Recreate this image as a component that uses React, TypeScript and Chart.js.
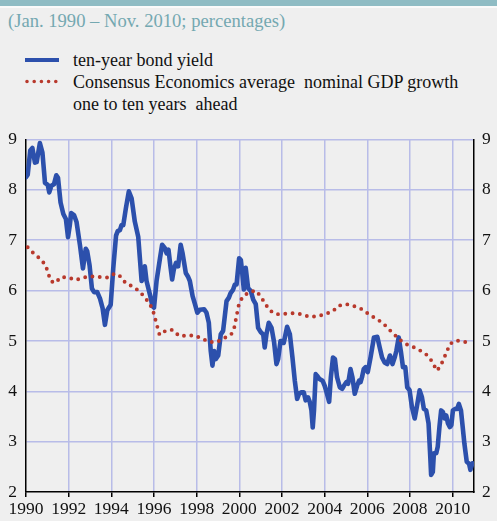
import React, { useEffect, useRef } from 'react';
import { Chart, registerables } from 'chart.js';

Chart.register(...registerables);

const tickYears = [1990, 1992, 1994, 1996, 1998, 2000, 2002, 2004, 2006, 2008, 2010];
const valueTicks = [2, 3, 4, 5, 6, 7, 8, 9];

const bondDates = [
  1990.0, 1990.08, 1990.2, 1990.3, 1990.42, 1990.5, 1990.65, 1990.77, 1990.89, 1991.02,
  1991.09, 1991.19, 1991.31, 1991.42, 1991.5, 1991.62, 1991.75, 1991.87, 1991.97, 1992.05,
  1992.12, 1992.25, 1992.37, 1992.53, 1992.67, 1992.8, 1992.87, 1992.98, 1993.09, 1993.19,
  1993.34, 1993.47, 1993.59, 1993.7, 1993.81, 1993.97, 1994.09, 1994.22, 1994.3, 1994.4,
  1994.48, 1994.56, 1994.68, 1994.82, 1994.95, 1995.1, 1995.26, 1995.42, 1995.49, 1995.57,
  1995.65, 1995.81, 1995.93, 1996.0, 1996.12, 1996.28, 1996.38, 1996.51, 1996.59, 1996.68,
  1996.78, 1996.85, 1996.93, 1997.03, 1997.13, 1997.25, 1997.34, 1997.49, 1997.59, 1997.68,
  1997.81, 1997.92, 1998.03, 1998.15, 1998.35, 1998.46, 1998.57, 1998.66, 1998.74, 1998.82,
  1998.9, 1999.01, 1999.13, 1999.24, 1999.4, 1999.51, 1999.59, 1999.71, 1999.79, 1999.87,
  1999.99, 2000.07, 2000.13, 2000.21, 2000.3, 2000.41, 2000.54, 2000.65, 2000.77, 2000.88,
  2001.01, 2001.12, 2001.19, 2001.27, 2001.38, 2001.51, 2001.63, 2001.74, 2001.82, 2001.93,
  2002.02, 2002.08, 2002.24, 2002.37, 2002.49, 2002.6, 2002.71, 2002.8, 2002.91, 2003.02,
  2003.11, 2003.22, 2003.3, 2003.38, 2003.44, 2003.5, 2003.58, 2003.64, 2003.74, 2003.9,
  2004.0, 2004.11, 2004.21, 2004.29, 2004.39, 2004.48, 2004.58, 2004.71, 2004.82, 2004.9,
  2005.02, 2005.1, 2005.21, 2005.3, 2005.41, 2005.52, 2005.61, 2005.68, 2005.75, 2005.83,
  2005.92, 2006.02, 2006.15, 2006.31, 2006.47, 2006.58, 2006.69, 2006.81, 2006.93, 2007.06,
  2007.18, 2007.28, 2007.36, 2007.47, 2007.57, 2007.67, 2007.78, 2007.87, 2007.98, 2008.09,
  2008.22, 2008.32, 2008.45, 2008.56, 2008.65, 2008.76, 2008.87, 2008.95, 2008.99, 2009.07,
  2009.12, 2009.23, 2009.3, 2009.38, 2009.46, 2009.54, 2009.62, 2009.7, 2009.78, 2009.87,
  2009.94, 2010.01, 2010.12, 2010.21, 2010.29, 2010.39, 2010.47, 2010.55, 2010.66, 2010.77,
  2010.83, 2010.92,
];
const bondValues = [
  8.25, 8.3, 8.78, 8.83, 8.54, 8.55, 8.93, 8.74, 8.14, 8.1,
  7.95, 8.08, 8.11, 8.29, 8.24, 7.75, 7.52, 7.42, 7.06, 7.29,
  7.54, 7.5, 7.36, 6.9, 6.44, 6.83, 6.78, 6.5, 6.04, 5.97,
  5.97, 5.84, 5.65, 5.32, 5.61, 5.72, 6.44, 7.09, 7.18, 7.2,
  7.3, 7.3, 7.63, 7.97, 7.83, 7.37, 7.07, 6.19, 6.25, 6.48,
  6.19, 5.92, 5.69, 5.66, 6.19, 6.64, 6.91, 6.84, 6.74, 6.81,
  6.45, 6.22, 6.42, 6.55, 6.48, 6.91, 6.74, 6.35, 6.28, 6.19,
  5.89, 5.73, 5.56, 5.62, 5.63, 5.56, 5.36, 4.8, 4.51, 4.8,
  4.64, 4.71, 5.13, 5.2, 5.79, 5.86, 5.95, 6.02, 6.12, 6.12,
  6.64, 6.61, 6.38, 6.02, 6.45, 6.05, 5.99, 5.82, 5.73, 5.26,
  5.17, 5.13, 4.87, 5.13, 5.36, 5.26, 4.97, 4.54, 4.64, 5.0,
  5.0, 4.96, 5.28, 5.13, 4.67, 4.21, 3.85, 3.95, 3.98, 3.98,
  3.82, 3.88, 3.79, 3.62, 3.28, 3.62, 4.34, 4.31, 4.25, 4.21,
  4.11, 3.95, 3.79, 4.28, 4.67, 4.64, 4.28, 4.08, 4.05, 4.11,
  4.18, 4.15, 4.44, 4.28, 3.95, 4.11, 4.21, 4.18, 4.28, 4.44,
  4.48, 4.38, 4.67, 5.07, 5.08, 4.87, 4.67, 4.57, 4.54, 4.71,
  4.54, 4.67, 4.8, 5.07, 4.8, 4.48, 4.48, 4.08, 4.02, 3.69,
  3.46, 3.69, 4.02, 3.88, 3.65, 3.62, 3.36, 2.7, 2.34, 2.4,
  2.77, 2.77, 2.9, 3.29, 3.62, 3.59, 3.46, 3.52, 3.36, 3.29,
  3.33, 3.62, 3.65, 3.65, 3.75, 3.62, 3.29, 2.96, 2.6, 2.56,
  2.44, 2.57,
];

const gdpDates = [
  1990.08, 1990.4, 1990.7, 1990.92, 1991.16, 1991.36, 1991.64, 1991.98, 1992.33, 1992.7,
  1993.08, 1993.81, 1994.17, 1994.43, 1994.67, 1995.0, 1995.31, 1995.56, 1995.81, 1995.96,
  1996.26, 1996.57, 1996.87, 1997.18, 1997.88, 1998.24, 1998.59, 1998.95, 1999.27, 1999.62,
  1999.76, 1999.98, 2000.16, 2000.46, 2000.79, 2001.02, 2001.41, 2001.74, 2002.52, 2002.9,
  2003.27, 2003.65, 2004.02, 2004.38, 2004.66, 2005.02, 2005.39, 2005.75, 2006.07, 2006.72,
  2006.99, 2007.53, 2007.85, 2008.2, 2008.56, 2008.86, 2009.08, 2009.25, 2009.42, 2009.73,
  2009.87, 2010.17, 2010.54, 2010.7,
];
const gdpValues = [
  6.86, 6.72, 6.62, 6.5, 6.19, 6.15, 6.27, 6.26, 6.21, 6.26,
  6.28, 6.26, 6.34, 6.28, 6.15, 6.08, 5.99, 5.87, 5.73, 5.59,
  5.12, 5.21, 5.22, 5.1, 5.11, 5.05, 4.98, 4.98, 5.05, 5.13,
  5.26, 5.73, 5.88, 5.97, 6.0, 5.87, 5.61, 5.53, 5.55, 5.53,
  5.48, 5.49, 5.53, 5.59, 5.7, 5.73, 5.69, 5.63, 5.53, 5.36,
  5.24, 5.02, 4.93, 4.87, 4.79, 4.7, 4.56, 4.41, 4.49, 4.79,
  4.94, 5.01, 4.98, 4.98,
];

const title = '(Jan. 1990 \u2013 Nov. 2010; percentages)';
const legendBond = 'ten-year bond yield';
const legendGdp1 = 'Consensus Economics average  nominal GDP growth';
const legendGdp2 = 'one to ten years  ahead';

const BLUE = '#2c50ac';
const RED = '#b8392c';
const GRID = 'rgb(184,188,232)';
const BG = '#efefef';
const FONT = "'Liberation Serif', 'Times New Roman', serif";

export default function App() {
  const ref = useRef<HTMLCanvasElement>(null);

  useEffect(() => {
    document.body.style.margin = '0';
    const tickFont = { family: FONT, size: 17.5 };
    const chart = new Chart(ref.current as HTMLCanvasElement, {
      type: 'line',
      data: {
        datasets: [
          {
            label: legendGdp1,
            data: gdpDates.map((d, i) => ({ x: d, y: gdpValues[i] })),
            borderColor: RED,
            borderWidth: 3.9,
            borderDash: [0, 7.3],
            borderCapStyle: 'round',
            pointRadius: 0,
            tension: 0,
            fill: false,
            order: 1,
          },
          {
            label: legendBond,
            data: bondDates.map((d, i) => ({ x: d, y: bondValues[i] })),
            borderColor: BLUE,
            borderWidth: 4.6,
            borderJoinStyle: 'round',
            borderCapStyle: 'round',
            pointRadius: 0,
            tension: 0,
            fill: false,
            order: 2,
          },
        ],
      },
      options: {
        responsive: false,
        animation: false,
        devicePixelRatio: 1,
        layout: { padding: { top: 17, left: 0, right: 0, bottom: 0 } },
        plugins: { legend: { display: false }, tooltip: { enabled: false } },
        scales: {
          x: {
            type: 'linear',
            min: 1990,
            max: 2011,
            afterBuildTicks: (s: any) => {
              s.ticks = tickYears.map((v) => ({ value: v }));
            },
            afterFit: (s: any) => {
              s.height = 29;
            },
            grid: {
              color: (ctx: any) => (ctx.tick && ctx.tick.value === 1990 ? 'rgba(0,0,0,0)' : GRID),
              lineWidth: 1.5,
              drawTicks: true,
              tickLength: 5,
              tickColor: '#000',
              tickWidth: 1.5,
            },
            border: { display: true, color: '#000', width: 1.5 },
            ticks: {
              callback: (v: any) => String(v),
              font: tickFont,
              color: '#111',
              padding: 2,
              maxRotation: 0,
              autoSkip: false,
            },
          },
          y: {
            position: 'left',
            min: 2,
            max: 9,
            afterBuildTicks: (s: any) => {
              s.ticks = valueTicks.map((v) => ({ value: v }));
            },
            afterFit: (s: any) => {
              s.width = 26;
            },
            grid: {
              color: (ctx: any) => (ctx.tick && ctx.tick.value === 2 ? 'rgba(0,0,0,0)' : GRID),
              lineWidth: 1.5,
              drawTicks: false,
            },
            border: { display: true, color: '#000', width: 1.5 },
            ticks: { callback: (v: any) => String(v), font: tickFont, color: '#111', padding: 9 },
          },
          y2: {
            position: 'right',
            min: 2,
            max: 9,
            afterBuildTicks: (s: any) => {
              s.ticks = valueTicks.map((v) => ({ value: v }));
            },
            afterFit: (s: any) => {
              s.width = 23;
            },
            grid: { display: false, drawTicks: false },
            border: { display: true, color: '#000', width: 1.5 },
            ticks: { callback: (v: any) => String(v), font: tickFont, color: '#111', padding: 8 },
          },
        },
      },
    } as any);
    return () => chart.destroy();
  }, []);

  const textStyle: React.CSSProperties = {
    position: 'absolute',
    fontFamily: FONT,
    fontSize: 18,
    lineHeight: '18px',
    whiteSpace: 'pre',
    color: '#111',
  };

  return (
    <div style={{ position: 'relative', width: 497, height: 521, background: BG, overflow: 'hidden' }}>
      <div style={{ position: 'absolute', left: 0, top: 0, width: 497, height: 6, background: '#8fbcc4' }} />
      <div style={{ position: 'absolute', left: 0, top: 6, width: 497, height: 2, background: '#fafafa' }} />
      <div style={{ ...textStyle, fontSize: 18.6, lineHeight: '18.6px', left: 8, top: 12, color: '#74a8b1' }}>{title}</div>
      <svg style={{ position: 'absolute', left: 0, top: 0 }} width={80} height={100}>
        <line x1={25} y1={60} x2={59} y2={60} stroke={BLUE} strokeWidth={4} />
        <line x1={27} y1={81.5} x2={59} y2={81.5} stroke={RED} strokeWidth={3.6} strokeDasharray="0 7.2" strokeLinecap="round" />
      </svg>
      <div style={{ ...textStyle, left: 73, top: 50.5 }}>{legendBond}</div>
      <div style={{ ...textStyle, left: 73, top: 72.5 }}>{legendGdp1}</div>
      <div style={{ ...textStyle, left: 73, top: 94.5 }}>{legendGdp2}</div>
      <canvas ref={ref} width={497} height={401} style={{ position: 'absolute', left: 0, top: 120, width: 497, height: 401 }} />
    </div>
  );
}
